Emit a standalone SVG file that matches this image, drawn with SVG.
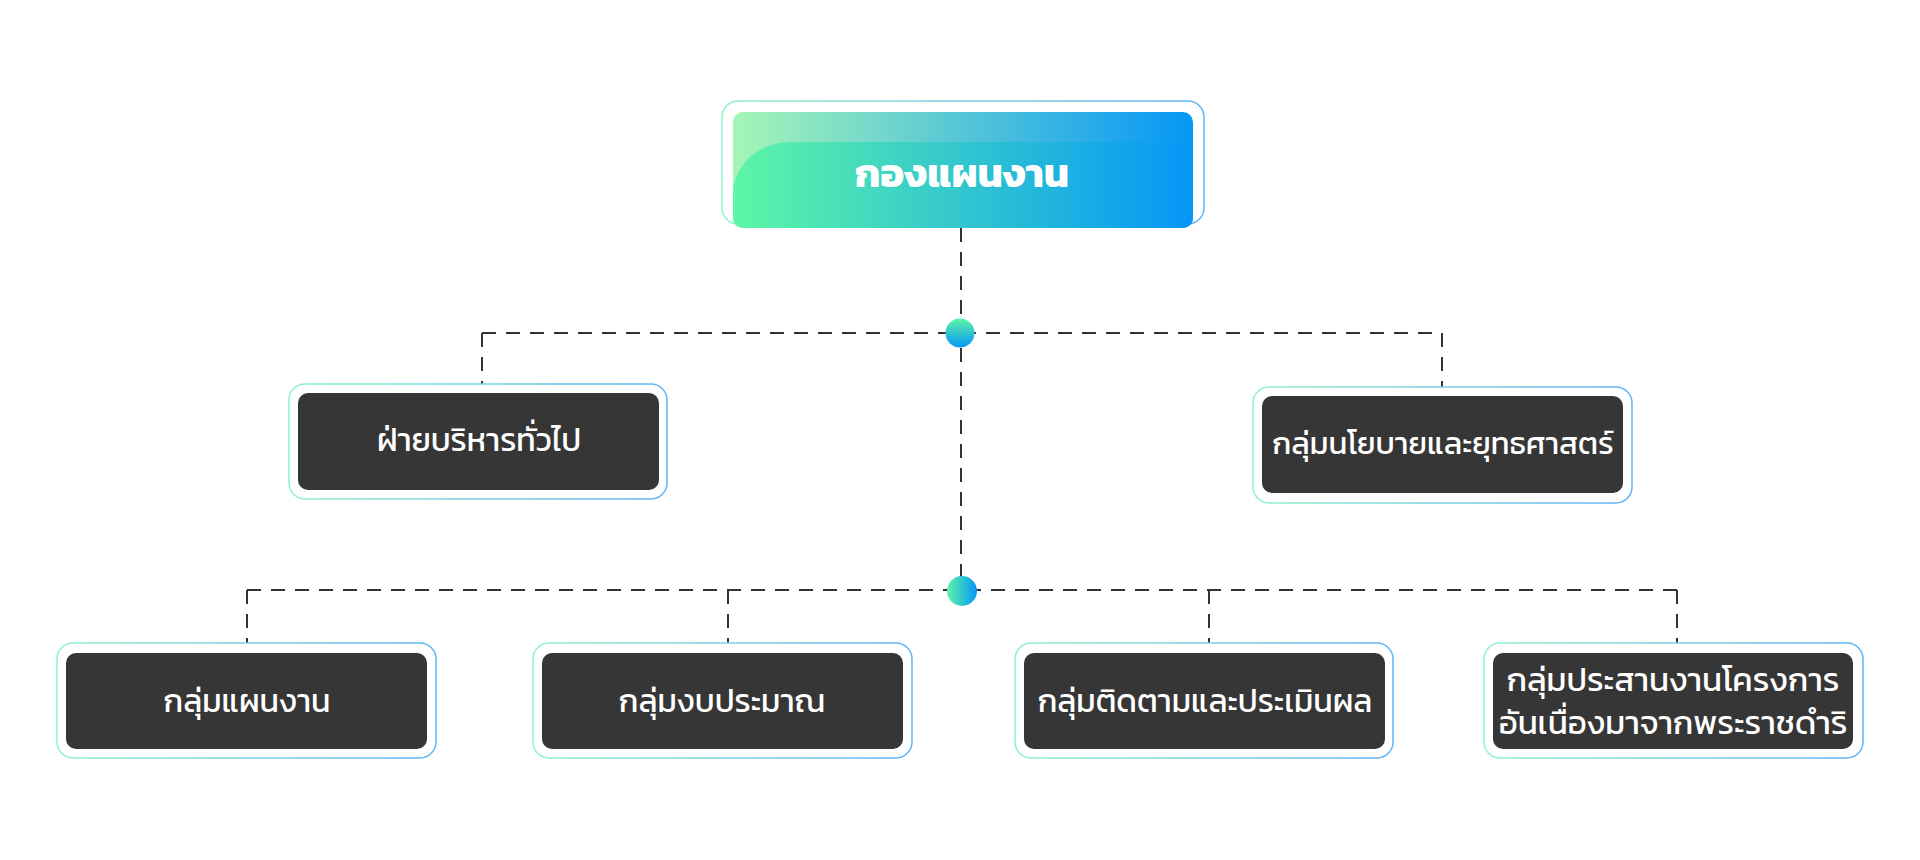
<svg xmlns="http://www.w3.org/2000/svg" width="1920" height="860" viewBox="0 0 1920 860">
<defs>
<linearGradient id="gBorder" x1="0" y1="0" x2="1" y2="0"><stop offset="0" stop-color="#8df2cc"/><stop offset="1" stop-color="#5fb4f6"/></linearGradient>
<linearGradient id="gTopLight" x1="0" y1="0" x2="1" y2="0"><stop offset="0" stop-color="#a6f5b6"/><stop offset="1" stop-color="#0597f7"/></linearGradient>
<linearGradient id="gTopMain" x1="0" y1="0" x2="1" y2="0"><stop offset="0" stop-color="#5ef6a6"/><stop offset="1" stop-color="#0596f7"/></linearGradient>
<linearGradient id="gDotV" x1="0" y1="0" x2="0" y2="1"><stop offset="0" stop-color="#5ef6a6"/><stop offset="1" stop-color="#0596f7"/></linearGradient>
<linearGradient id="gDotH" x1="0" y1="0" x2="1" y2="0"><stop offset="0" stop-color="#5ef6a6"/><stop offset="1" stop-color="#0596f7"/></linearGradient>
<clipPath id="cTop"><rect x="733" y="112" width="460" height="116" rx="10"/></clipPath>
</defs>
<style>
.outer{fill:#ffffff;stroke:url(#gBorder);stroke-width:1.5}
.inner{fill:#363636}
.lbl{fill:#ffffff;font-family:"Kanit","Prompt","Noto Sans Thai","Noto Sans Thai UI","Noto Sans","DejaVu Sans",sans-serif;font-size:32px;text-anchor:middle}
.ttl{fill:#ffffff;font-family:"Kanit","Prompt","Noto Sans Thai","Noto Sans Thai UI","Noto Sans","DejaVu Sans",sans-serif;font-size:40px;font-weight:bold;text-anchor:middle}
.dash{fill:none;stroke:#333333;stroke-width:2;stroke-dasharray:14 10}
</style>
<rect width="1920" height="860" fill="#ffffff"/>
<g id="connectors">
<path class="dash" d="M961 228 V590"/>
<path class="dash" d="M482 333 H1442"/>
<path class="dash" d="M482 333 V385"/>
<path class="dash" d="M1442 333 V396"/>
<path class="dash" d="M247 590 H1677"/>
<path class="dash" d="M247 590 V652"/>
<path class="dash" d="M728 590 V652"/>
<path class="dash" d="M1209 590 V652"/>
<path class="dash" d="M1677 590 V652"/>
<circle cx="960" cy="333" r="14.5" fill="url(#gDotV)"/>
<circle cx="962" cy="591" r="15" fill="url(#gDotH)"/>
</g>
<g id="node-top">
<rect class="outer" x="722" y="101" width="482" height="123" rx="16"/>
<g clip-path="url(#cTop)">
<rect x="733" y="112" width="460" height="116" fill="url(#gTopLight)"/>
<path d="M1193 142 H792 C758 142 733 165 733 195 V228 H1193 Z" fill="url(#gTopMain)"/>
</g>
<text class="ttl" x="962" y="187">กองแผนงาน</text>
</g>
<g id="node-admin">
<rect class="outer" x="289" y="384" width="378" height="115" rx="16"/>
<rect class="inner" x="298" y="393" width="361" height="97" rx="10"/>
<text class="lbl" x="479" y="451">ฝ่ายบริหารทั่วไป</text>
</g>
<g id="node-policy">
<rect class="outer" x="1253" y="387" width="379" height="116" rx="16"/>
<rect class="inner" x="1262" y="396" width="361" height="97" rx="10"/>
<text class="lbl" x="1443" y="454" style="font-size:31px">กลุ่มนโยบายและยุทธศาสตร์</text>
</g>
<g id="node-plan">
<rect class="outer" x="57" y="643" width="379" height="115" rx="16"/>
<rect class="inner" x="66" y="653" width="361" height="96" rx="10"/>
<text class="lbl" x="247" y="712">กลุ่มแผนงาน</text>
</g>
<g id="node-budget">
<rect class="outer" x="533" y="643" width="379" height="115" rx="16"/>
<rect class="inner" x="542" y="653" width="361" height="96" rx="10"/>
<text class="lbl" x="722" y="712">กลุ่มงบประมาณ</text>
</g>
<g id="node-monitor">
<rect class="outer" x="1015" y="643" width="378" height="115" rx="16"/>
<rect class="inner" x="1024" y="653" width="361" height="96" rx="10"/>
<text class="lbl" x="1205" y="712">กลุ่มติดตามและประเมินผล</text>
</g>
<g id="node-royal">
<rect class="outer" x="1484" y="643" width="379" height="115" rx="16"/>
<rect class="inner" x="1493" y="653" width="360" height="96" rx="10"/>
<text class="lbl" x="1673" y="691" style="font-size:33px">กลุ่มประสานงานโครงการ</text>
<text class="lbl" x="1673" y="734" style="font-size:33px">อันเนื่องมาจากพระราชดำริ</text>
</g>
</svg>
